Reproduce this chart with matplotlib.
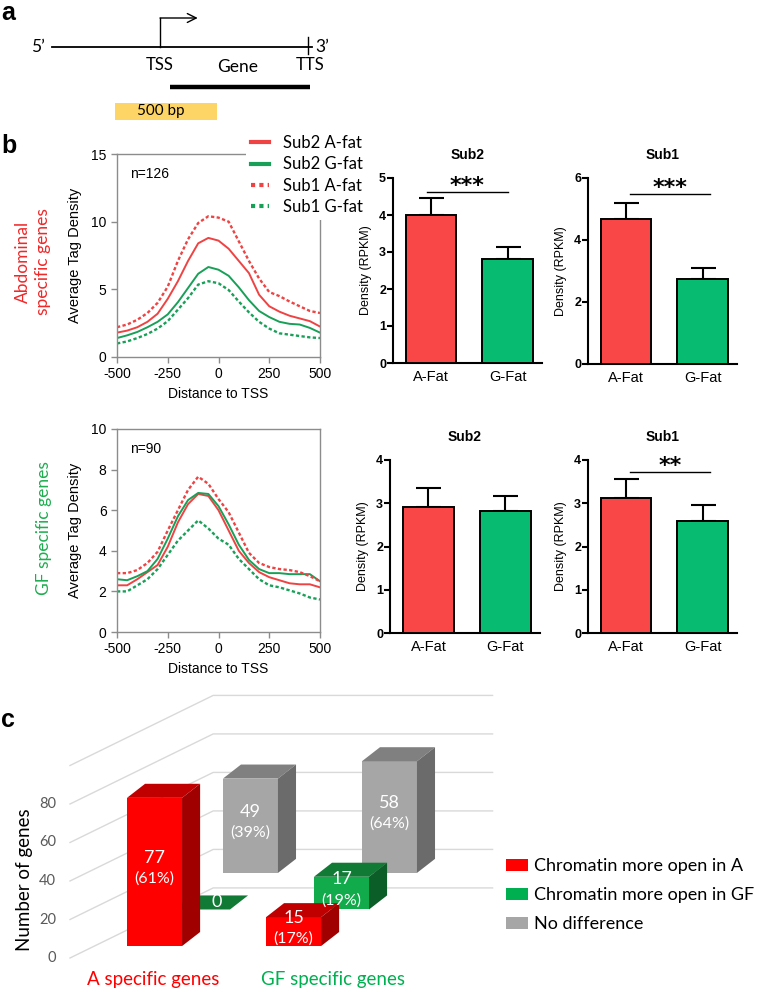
import numpy as np
import matplotlib
matplotlib.use("Agg")
import matplotlib.pyplot as plt
from matplotlib.patches import Polygon, Rectangle, Patch
from matplotlib.lines import Line2D

W, H = 760, 992

# ---------------- data ----------------
# panel b: average tag density around the TSS, sampled every 50 bp
dist = list(range(-500, 501, 50))

abd_sub2_afat = [1.8, 1.95, 2.2, 2.6, 3.2, 4.3, 5.6, 7.1, 8.4, 8.8, 8.6, 8.0, 7.1, 6.2, 4.6, 3.75, 3.35, 3.05, 2.85, 2.65, 2.25]
abd_sub2_gfat = [1.4, 1.6, 1.85, 2.2, 2.6, 3.15, 4.05, 5.1, 6.15, 6.65, 6.45, 6.0, 5.15, 4.2, 3.4, 2.95, 2.6, 2.45, 2.4, 2.15, 1.8]
abd_sub1_afat = [2.2, 2.4, 2.75, 3.25, 4.0, 5.2, 7.1, 8.7, 9.9, 10.4, 10.3, 10.0, 8.55, 7.1, 5.8, 4.8, 4.5, 4.1, 3.75, 3.4, 3.25]
abd_sub1_gfat = [1.0, 1.15, 1.4, 1.7, 2.1, 2.65, 3.5, 4.35, 5.35, 5.6, 5.45, 4.95, 4.1, 3.3, 2.6, 2.1, 1.75, 1.65, 1.55, 1.45, 1.4]

gf_sub2_afat = [2.3, 2.3, 2.6, 2.95, 3.3, 4.2, 5.4, 6.3, 6.8, 6.7, 6.0, 5.0, 4.0, 3.4, 2.95, 2.7, 2.55, 2.4, 2.35, 2.35, 2.2]
gf_sub2_gfat = [2.6, 2.55, 2.75, 3.0, 3.6, 4.6, 5.7, 6.5, 6.85, 6.8, 6.2, 5.3, 4.3, 3.55, 3.1, 2.9, 2.9, 2.85, 2.85, 2.85, 2.5]
gf_sub1_afat = [2.9, 2.9, 3.05, 3.4, 3.95, 5.0, 6.0, 7.0, 7.65, 7.3, 6.55, 5.9, 4.9, 3.9, 3.4, 3.2, 3.1, 3.05, 2.95, 2.75, 2.5]
gf_sub1_gfat = [2.0, 2.0, 2.3, 2.6, 3.1, 3.8, 4.5, 5.0, 5.5, 5.1, 4.6, 4.3, 3.6, 3.1, 2.6, 2.3, 2.2, 2.05, 1.9, 1.7, 1.6]

# panel b: density (RPKM) bars
fat_groups = ['A-Fat', 'G-Fat']
abd_sub2_mean, abd_sub2_err = [4.0, 2.8], [0.47, 0.34]
abd_sub1_mean, abd_sub1_err = [4.67, 2.73], [0.52, 0.36]
gf_sub2_mean, gf_sub2_err = [2.92, 2.81], [0.43, 0.36]
gf_sub1_mean, gf_sub1_err = [3.12, 2.58], [0.45, 0.37]

# panel c: number of genes
gene_sets = ['A specific genes', 'GF specific genes']
open_in_a = [77, 15]
open_in_a_pct = [61, 17]
open_in_gf = [0, 17]
open_in_gf_pct = [0, 19]
no_diff = [49, 58]
no_diff_pct = [39, 64]

# ---------------- styles ----------------
LATO = ['Lato', 'DejaVu Sans']
plt.rcParams['font.family'] = ['Liberation Sans', 'DejaVu Sans']
plt.rcParams['axes.unicode_minus'] = False
RED_LINE, GREEN_LINE = '#ef4343', '#18a058'
RED_BAR, GREEN_BAR = '#f94646', '#07bb70'
DOTS = (0, (1.4, 1.0))

fig = plt.figure(figsize=(W / 100, H / 100), dpi=100)


def box(l, t, r, b):
    return [l / W, 1 - b / H, (r - l) / W, (b - t) / H]


# ---------------- panel a: gene schematic ----------------
px_per_bp = 102 / 500
tss, tts = 0, 725
ax_a = fig.add_axes(box(0, 0, W, 130))
ax_a.set_xlim(-160 / px_per_bp, (W - 160) / px_per_bp)
ax_a.set_ylim(130, 0)
ax_a.axis('off')
ax_a.plot([-530, 745], [47, 47], color='black', lw=1.3)
ax_a.plot([tss, tss], [47, 18], color='black', lw=1)
ax_a.annotate('', xy=(185, 18), xytext=(tss, 18),
              arrowprops=dict(arrowstyle='->', lw=1, color='black', shrinkA=0, shrinkB=0, mutation_scale=16))
ax_a.plot([tts, tts], [37, 54], color='black', lw=1)
ax_a.plot([50, 735], [87, 87], color='black', lw=3.2, solid_capstyle='butt')
ax_a.add_patch(Rectangle((-220, 103), 500, 17, color='#fdd566', lw=0))
ax_a.text(-598, 47, '5\u2019', ha='center', va='center', fontsize=12.5, family=LATO)
ax_a.text(797, 47, '3\u2019', ha='center', va='center', fontsize=12.5, family=LATO)
ax_a.text(tss, 65, 'TSS', ha='center', va='center', fontsize=12, family=LATO)
ax_a.text(380, 67, 'Gene', ha='center', va='center', fontsize=12.5, family=LATO)
ax_a.text(tts + 10, 65, 'TTS', ha='center', va='center', fontsize=12, family=LATO)
ax_a.text(5, 111, '500 bp', ha='center', va='center', fontsize=11, family=LATO)

fig.text(1 / W, 1 - 1 / H, 'a', fontsize=18, fontweight='bold', va='top', ha='left')
for letter, y in [('b', 153), ('c', 727)]:
    fig.text(1 / W, 1 - y / H, letter, fontsize=18, fontweight='bold', va='baseline', ha='left')

# ---------------- panel b: profiles ----------------
def profile(ax, a2, g2, a1, g1, ymax, ystep, n_text):
    ax.plot(dist, a2, color=RED_LINE, lw=1.4, label='Sub2 A-fat')
    ax.plot(dist, g2, color=GREEN_LINE, lw=1.4, label='Sub2 G-fat')
    ax.plot(dist, a1, color=RED_LINE, lw=1.7, ls=DOTS, label='Sub1 A-fat')
    ax.plot(dist, g1, color=GREEN_LINE, lw=1.7, ls=DOTS, label='Sub1 G-fat')
    ax.set_xlim(-500, 500)
    ax.set_ylim(0, ymax)
    ax.set_xticks([-500, -250, 0, 250, 500])
    ax.set_yticks(np.arange(0, ymax + 1, ystep))
    for s in ax.spines.values():
        s.set_color('#8c8c8c')
        s.set_linewidth(1)
    ax.tick_params(colors='#8c8c8c', labelcolor='black', labelsize=10, length=4, width=1)
    ax.set_xlabel('Distance to TSS', fontsize=10)
    ax.set_ylabel('Average Tag Density', fontsize=10.5)
    ax.xaxis.set_label_coords(0.5, -0.15)
    ax.yaxis.set_label_coords(-0.172, 0.5)
    ax.text(0.064, 0.9, n_text, transform=ax.transAxes, fontsize=10, va='center')


ax_p1 = fig.add_axes(box(117, 154, 320, 357))
profile(ax_p1, abd_sub2_afat, abd_sub2_gfat, abd_sub1_afat, abd_sub1_gfat, 15, 5, 'n=126')
ax_p2 = fig.add_axes(box(117, 429, 320, 632))
profile(ax_p2, gf_sub2_afat, gf_sub2_gfat, gf_sub1_afat, gf_sub1_gfat, 10, 2, 'n=90')

handles = [Line2D([], [], color=RED_LINE, lw=3), Line2D([], [], color=GREEN_LINE, lw=3),
           Line2D([], [], color=RED_LINE, lw=3, ls=(0, (1, 1))), Line2D([], [], color=GREEN_LINE, lw=3, ls=(0, (1, 1)))]
leg = fig.legend(handles, ['Sub2 A-fat', 'Sub2 G-fat', 'Sub1 A-fat', 'Sub1 G-fat'],
                 loc='upper left', bbox_to_anchor=(246 / W, 1 - 130 / H),
                 prop={'family': LATO, 'size': 12}, frameon=True, facecolor='white', edgecolor='none',
                 framealpha=1, fancybox=False, handlelength=1.05, handletextpad=0.85, labelspacing=0.32,
                 borderpad=0.3, borderaxespad=0)
leg.set_zorder(20)

fig.text(33 / W, 1 - 262 / H, 'Abdominal\nspecific genes', rotation=90, ha='center', va='center',
         fontsize=12.5, color='#f02828', family=LATO, linespacing=1.35, multialignment='center')
fig.text(44 / W, 1 - 528 / H, 'GF specific genes', rotation=90, ha='center', va='center',
         fontsize=12.5, color='#1fae50', family=LATO)

# ---------------- panel b: bars ----------------
def bars(ax, means, errs, ymax, yticks, title, sig=None):
    x = np.arange(len(fat_groups))
    ax.errorbar(x, means, yerr=[np.zeros(len(errs)), errs], fmt='none', ecolor='black',
                elinewidth=1.5, capsize=9, capthick=1.5, zorder=2)
    ax.bar(x, means, width=0.66, color=[RED_BAR, GREEN_BAR], edgecolor='black', linewidth=1.4, zorder=3)
    ax.set_xlim(-0.5, 1.45)
    ax.set_ylim(0, ymax)
    ax.set_yticks(yticks)
    ax.set_xticks(x)
    ax.set_xticklabels(fat_groups, fontsize=10.5)
    for s in ['top', 'right']:
        ax.spines[s].set_visible(False)
    for s in ['left', 'bottom']:
        ax.spines[s].set_linewidth(1.5)
    ax.tick_params(axis='y', length=4, width=1.5, labelsize=9, pad=1)
    ax.tick_params(axis='x', length=0, pad=5)
    for lab in ax.get_yticklabels():
        lab.set_fontweight('bold')
    ax.set_ylabel('Density (RPKM)', fontsize=9)
    ax.yaxis.set_label_coords(-0.14, 0.5)
    ax.set_title(title, fontsize=10, fontweight='bold', pad=14)
    if sig:
        x1, x2, y, stars = sig
        ax.plot([x1, x2], [y, y], color='black', lw=1)
        ax.text((x1 + x2) / 2, y, stars, ha='center', va='baseline', fontsize=16,
                fontweight='bold', family='DejaVu Sans')


bars(fig.add_axes(box(393, 178, 542, 363)), abd_sub2_mean, abd_sub2_err, 5, [0, 1, 2, 3, 4, 5], 'Sub2',
     (-0.05, 1.0, 4.62, '***'))
bars(fig.add_axes(box(588, 178, 737, 364)), abd_sub1_mean, abd_sub1_err, 6, [0, 2, 4, 6], 'Sub1',
     (0.05, 1.1, 5.48, '***'))
bars(fig.add_axes(box(390, 460, 540, 633)), gf_sub2_mean, gf_sub2_err, 4, [0, 1, 2, 3, 4], 'Sub2')
bars(fig.add_axes(box(588, 460, 737, 633)), gf_sub1_mean, gf_sub1_err, 4, [0, 1, 2, 3, 4], 'Sub1',
     (0.05, 1.1, 3.72, '**'))

# ---------------- panel c: pseudo 3D columns ----------------
ax_c = fig.add_axes(box(0, 680, 500, 992))
ax_c.set_xlim(-127 / 139, (500 - 127) / 139)
ax_c.set_ylim((958 - 992) / 1.925, (958 - 680) / 1.925)
ax_c.axis('off')

wall_front, wall_back, wall_end, wall_rise = -0.41, 0.62, 2.63, 36.4
for v in range(0, 101, 20):
    ax_c.plot([wall_front, wall_back, wall_end], [v, v + wall_rise, v + wall_rise],
              color='#d9d9d9', lw=1, zorder=1)
    if v <= 80:
        ax_c.text(-0.51, v, str(v), ha='right', va='center', fontsize=10.5, color='#595959', family=LATO)
ax_c.text(-0.735, 40.5, 'Number of genes', rotation=90, ha='center', va='center', fontsize=13.5, family=LATO)

bar_w, side_dx, side_dy = 0.396, 0.13, 7.3
row_dx, floor0, row_rise = 0.345, 6.2, 19.0
series = [  # back to front
    (no_diff, no_diff_pct, ('#a6a6a6', '#808080', '#6b6b6b'), 2),
    (open_in_gf, open_in_gf_pct, ('#12ab4c', '#117a35', '#0b5e27'), 1),
    (open_in_a, open_in_a_pct, ('#ff0000', '#c00000', '#a00000'), 0),
]
for values, pcts, (c_front, c_top, c_side), row in series:
    for i, (v, p) in enumerate(zip(values, pcts)):
        x0 = i + row * row_dx
        b = floor0 + row * row_rise
        t = b + v
        z = 2 + (2 - row)
        ax_c.add_patch(Polygon([(x0, b), (x0 + bar_w, b), (x0 + bar_w, t), (x0, t)], closed=True,
                               fc=c_front, ec='none', zorder=z))
        ax_c.add_patch(Polygon([(x0, t), (x0 + bar_w, t), (x0 + bar_w + side_dx, t + side_dy),
                                (x0 + side_dx, t + side_dy)], closed=True, fc=c_top, ec='none', zorder=z))
        ax_c.add_patch(Polygon([(x0 + bar_w, b), (x0 + bar_w + side_dx, b + side_dy),
                                (x0 + bar_w + side_dx, t + side_dy), (x0 + bar_w, t)], closed=True,
                               fc=c_side, ec='none', zorder=z))
        if v == 0:
            ax_c.text(x0 + (bar_w + side_dx) / 2 + 0.04, b + side_dy / 2, '0', ha='center', va='center',
                      color='white', fontsize=13, family=LATO, zorder=10)
        else:
            cx, cy = x0 + bar_w / 2, b + v / 2
            ax_c.annotate(str(v), (cx, cy), xytext=(0, 10), textcoords='offset points', ha='center',
                          va='center', color='white', fontsize=13, family=LATO, zorder=10)
            ax_c.annotate('(%d%%)' % p, (cx, cy), xytext=(0, -5), textcoords='offset points', ha='center',
                          va='center', color='white', fontsize=11.5, family=LATO, zorder=10)

ax_c.text(0.19, -11.4, gene_sets[0], ha='center', va='center', fontsize=13.5, color='#ff0000', family=LATO)
ax_c.text(1.48, -11.4, gene_sets[1], ha='center', va='center', fontsize=13.5, color='#00b050', family=LATO)

fig.legend([Patch(fc='#ff0000'), Patch(fc='#00b050'), Patch(fc='#a6a6a6')],
           ['Chromatin more open in A', 'Chromatin more open in GF', 'No difference'],
           loc='upper left', bbox_to_anchor=(506 / W, 1 - 858 / H), frameon=False,
           prop={'family': LATO, 'size': 13}, handlelength=1.2, handleheight=0.65,
           handletextpad=0.35, labelspacing=0.72, borderpad=0, borderaxespad=0)

fig.savefig('out.png', dpi=100)
